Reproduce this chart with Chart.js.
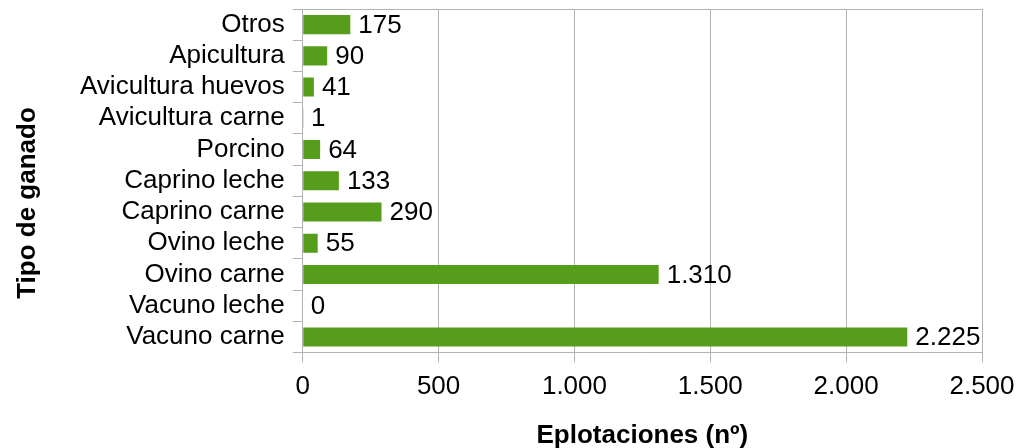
<!DOCTYPE html>
<html>
<head>
<meta charset="utf-8">
<script src="https://cdn.jsdelivr.net/npm/chart.js@4/dist/chart.umd.min.js"></script>
<style>
  html, body { margin: 0; padding: 0; background: #fff; }
  #wrap { width: 1017px; height: 448px; }
</style>
</head>
<body>
<div id="wrap"><canvas id="chart"></canvas></div>
<script>
const categories = ["Otros", "Apicultura", "Avicultura huevos", "Avicultura carne", "Porcino",
  "Caprino leche", "Caprino carne", "Ovino leche", "Ovino carne", "Vacuno leche", "Vacuno carne"];
const explotaciones = [175, 90, 41, 1, 64, 133, 290, 55, 1310, 0, 2225];
const xTicks = [0, 500, 1000, 1500, 2000, 2500];
const yTitle = "Tipo de ganado";

const FONT = "'Liberation Sans', Arial, sans-serif";
const fmtNum = v => String(v).replace(/\B(?=(\d{3})+(?!\d))/g, ".");

// etiquetas de valor, borde superior del area y titulo del eje vertical
const extras = {
  id: "extras",
  afterDatasetsDraw(chart) {
    const { ctx, chartArea } = chart;
    ctx.save();
    ctx.strokeStyle = "#b3b3b3";
    ctx.lineWidth = 1;
    ctx.beginPath();
    ctx.moveTo(chartArea.left, chartArea.top + 0.5);
    ctx.lineTo(chartArea.right, chartArea.top + 0.5);
    ctx.stroke();
    ctx.font = "26px " + FONT;
    ctx.fillStyle = "#000";
    ctx.textBaseline = "middle";
    chart.getDatasetMeta(0).data.forEach((bar, i) => {
      ctx.fillText(fmtNum(explotaciones[i]), bar.x + 8, bar.y + 1);
    });
    // titulo del eje y, centrado en la figura como en el original
    ctx.font = "bold 26px " + FONT;
    ctx.textAlign = "center";
    ctx.translate(28, 203);
    ctx.rotate(-Math.PI / 2);
    ctx.fillText(yTitle, 0, 0);
    ctx.restore();
  }
};

new Chart(document.getElementById("chart"), {
  type: "bar",
  data: {
    labels: categories,
    datasets: [{
      data: explotaciones,
      backgroundColor: "#579d1c",
      categoryPercentage: 0.61,
      barPercentage: 1
    }]
  },
  options: {
    indexAxis: "y",
    responsive: true,
    maintainAspectRatio: false,
    animation: false,
    layout: { padding: { top: 9, right: 0, bottom: -3, left: 72 } },
    plugins: { legend: { display: false }, tooltip: { enabled: false } },
    scales: {
      x: {
        min: 0,
        max: 2500,
        afterBuildTicks: axis => { axis.ticks = xTicks.map(v => ({ value: v })); },
        afterFit: s => { s.paddingRight = 35; },
        grid: { color: "#b3b3b3", tickLength: 10 },
        border: { color: "#b3b3b3" },
        ticks: {
          color: "#000",
          font: { family: FONT, size: 26 },
          padding: 9,
          maxRotation: 0,
          callback: v => fmtNum(v)
        },
        title: {
          display: true,
          text: "Eplotaciones (nº)",
          color: "#000",
          font: { family: FONT, size: 26, weight: "bold" },
          padding: { top: 8, bottom: 0 }
        }
      },
      y: {
        afterFit: s => { s.paddingTop = 0; s.paddingBottom = 0; },
        grid: { offset: true, drawOnChartArea: false, color: "#b3b3b3", tickLength: 10 },
        border: { color: "#b3b3b3" },
        ticks: {
          color: "#000",
          font: { family: FONT, size: 26 },
          padding: 8,
          autoSkip: false
        }
      }
    }
  },
  plugins: [extras]
});
</script>
</body>
</html>
